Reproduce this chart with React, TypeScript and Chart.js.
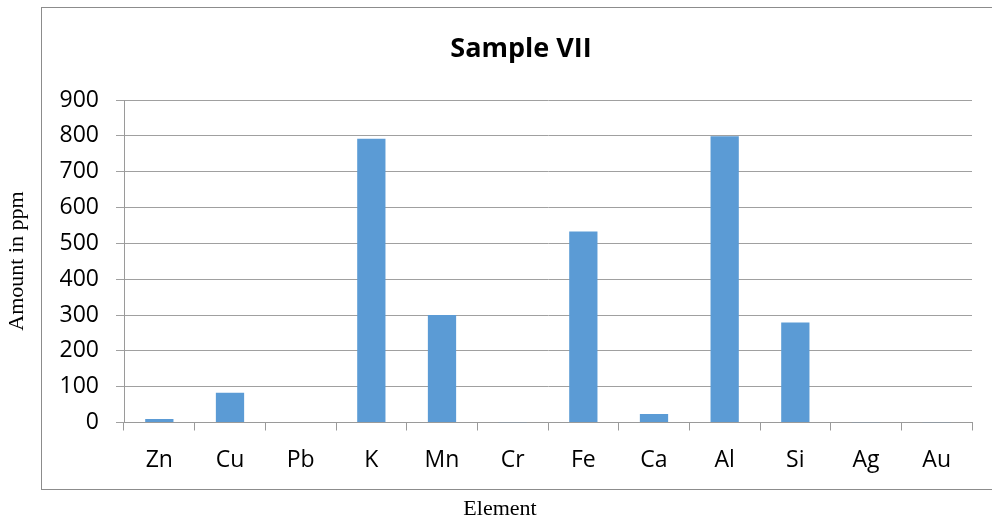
import React, { useEffect, useRef } from "react";
import { Chart, registerables } from "chart.js";

Chart.register(...registerables);

const categories = ["Zn", "Cu", "Pb", "K", "Mn", "Cr", "Fe", "Ca", "Al", "Si", "Ag", "Au"];
const amounts = [10, 83, 0, 792, 300, 1, 533, 24, 799, 279, 0.5, 0.5];
const yTicks = [0, 100, 200, 300, 400, 500, 600, 700, 800, 900];
const titleText = "Sample VII";
const yTitle = "Amount in ppm";
const xTitle = "Element";

const decorPlugin = {
  id: "decor",
  beforeDraw(chart: any) {
    const ctx = chart.ctx;
    ctx.save();
    ctx.fillStyle = "#ffffff";
    ctx.fillRect(0, 0, chart.width, chart.height);
    ctx.strokeStyle = "#8c8c8c";
    ctx.lineWidth = 1;
    ctx.strokeRect(41.5, 7.5, 1000, 482);
    ctx.restore();
  },
  afterDraw(chart: any) {
    const ctx = chart.ctx;
    ctx.save();
    ctx.fillStyle = "#000000";
    ctx.font = "bold 27px 'Open Sans'";
    ctx.textAlign = "center";
    ctx.textBaseline = "alphabetic";
    ctx.fillText(titleText, 521, 57);
    ctx.font = "22px 'Liberation Serif'";
    ctx.fillText(xTitle, 500, 515);
    ctx.translate(23, 261);
    ctx.rotate(-Math.PI / 2);
    ctx.fillText(yTitle, 0, 0);
    ctx.restore();
  },
};

export default function App() {
  const ref = useRef<HTMLCanvasElement | null>(null);
  useEffect(() => {
    if (!ref.current) return;
    const chart = new Chart(ref.current, {
      type: "bar",
      data: {
        labels: categories,
        datasets: [
          {
            data: amounts,
            backgroundColor: "#5b9bd5",
            borderWidth: 0,
            barPercentage: 0.4,
            categoryPercentage: 1,
          },
        ],
      },
      options: {
        animation: false,
        responsive: false,
        devicePixelRatio: 1,
        layout: { padding: { left: 0, right: 20, top: 100, bottom: 0 } },
        plugins: { legend: { display: false }, tooltip: { enabled: false } },
        scales: {
          x: {
            afterFit: (s: any) => {
              s.height = 96.5;
            },
            grid: {
              offset: true,
              drawOnChartArea: false,
              drawTicks: true,
              tickLength: 8,
              color: "#9a9a9a",
            },
            border: { color: "#9a9a9a", width: 1 },
            ticks: {
              color: "#000000",
              padding: 16,
              font: { family: "'Open Sans'", size: 23 },
              maxRotation: 0,
            },
          },
          y: {
            min: 0,
            max: 900,
            afterFit: (s: any) => {
              s.width = 124;
            },
            afterBuildTicks: (s: any) => {
              s.ticks = yTicks.map((v) => ({ value: v }));
            },
            grid: {
              color: "#a0a0a0",
              drawTicks: true,
              tickLength: 8,
            },
            border: { color: "#9a9a9a", width: 1 },
            ticks: {
              color: "#000000",
              padding: 17,
              font: { family: "'Open Sans'", size: 23 },
            },
          },
        },
      },
      plugins: [decorPlugin],
    });
    return () => chart.destroy();
  }, []);
  return (
    <div style={{ position: "absolute", left: 0, top: 0, width: 992, height: 519 }}>
      <canvas ref={ref} width={992} height={519} style={{ width: 992, height: 519 }} />
    </div>
  );
}
